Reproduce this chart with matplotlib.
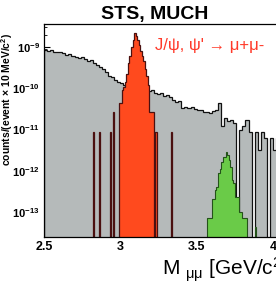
import numpy as np
import matplotlib
matplotlib.use('Agg')
import matplotlib.pyplot as plt

plt.rcParams['font.family'] = ['Liberation Sans', 'DejaVu Sans']
plt.rcParams['mathtext.fontset'] = 'custom'
plt.rcParams['mathtext.rm'] = 'Liberation Sans'
plt.rcParams['mathtext.bf'] = 'Liberation Sans:bold'
plt.rcParams['mathtext.it'] = 'Liberation Sans:italic'

# combinatorial background, 20 MeV bins starting at 2.50 GeV
bg_start, bg_width = 2.50, 0.02
bg_counts = [
    8.6e-10, 8.0e-10, 8.3e-10, 7.6e-10, 7.4e-10, 7.8e-10, 7.0e-10, 6.6e-10, 6.9e-10, 6.1e-10,
    5.8e-10, 5.5e-10, 5.6e-10, 5.0e-10, 4.6e-10, 4.8e-10, 4.1e-10, 3.6e-10, 3.3e-10, 2.9e-10,
    2.5e-10, 2.0e-10, 1.9e-10, 1.6e-10, 1.4e-10, 1.35e-10, 1.2e-10, 1.15e-10, 1.1e-10, 1.05e-10,
    1.0e-10, 9.5e-11, 9.2e-11, 8.8e-11, 8.5e-11, 9.0e-11, 7.6e-11, 7.2e-11, 7.8e-11, 6.6e-11,
    7.0e-11, 6.0e-11, 5.2e-11, 4.7e-11, 5.0e-11, 3.4e-11, 3.6e-11, 3.3e-11, 3.5e-11, 3.1e-11,
    3.0e-11, 2.9e-11, 2.7e-11, 2.6e-11, 2.5e-11, 2.8e-11, 3.0e-11, 4.4e-11, 1.2e-11, 1.9e-11,
    1.6e-11, 1.7e-11, 1.45e-11, 0, 9.8e-12, 1.2e-11, 1.7e-11, 8.7e-12, 0, 8.7e-12,
    3.2e-12, 8.7e-12, 6.3e-12, 0, 6.3e-12, 3.2e-12, 6.3e-12, 3.2e-12,
]

# J/psi signal, 10 MeV bins starting at 2.80 GeV
jpsi_start, jpsi_width = 2.80, 0.01
jpsi_counts = [
    0, 0, 8.7e-12, 0, 0, 0, 8.7e-12, 0, 0, 0,
    0, 0, 0, 8.7e-12, 0, 2.6e-11, 0, 0, 0, 4.4e-11,
    4.4e-11, 9e-11, 1.1e-10, 1.4e-10, 2.2e-10, 4e-10, 6e-10, 1.0e-9, 1.5e-9, 2.2e-9,
    1.9e-9, 1.5e-9, 1.1e-9, 8e-10, 6e-10, 4.5e-10, 3e-10, 2e-10, 1.2e-10, 2.6e-11,
    2.6e-11, 2.6e-11, 0, 8.7e-12, 0, 0, 0, 0, 0, 0,
    0, 0, 0, 8.7e-12, 0,
]

# psi' signal, 10 MeV bins starting at 3.57 GeV
psi2_start, psi2_width = 3.57, 0.01
psi2_counts = [
    7e-14, 7e-14, 7e-14, 2e-13, 2e-13, 3.4e-13, 4e-13, 9e-13, 1.1e-12, 1.6e-12,
    2.1e-12, 2.2e-12, 2.8e-12, 2.4e-12, 1.8e-12, 1.26e-12, 6e-13, 5e-13, 2.3e-13, 2.3e-13,
    2.3e-13, 1e-13, 1e-13, 7e-14, 7e-14, 7e-14, 0, 0, 0, 0,
    0, 4.4e-14, 0,
]

floor = 1e-16


def draw_hist(ax, start, width, counts, face, edge, lw, z):
    counts = np.maximum(np.array(counts, dtype=float), floor)
    edges = start + width * np.arange(len(counts) + 1)
    ax.stairs(counts, edges, baseline=floor, fill=True, facecolor=face,
              edgecolor=face, zorder=z)
    ax.stairs(counts, edges, baseline=floor, color=edge, linewidth=lw, zorder=z + 0.1)


fig = plt.figure(figsize=(2.76, 2.86), dpi=100)
ax = fig.add_axes([44 / 276, 49 / 286, 237 / 276, 213 / 286])

draw_hist(ax, bg_start, bg_width, bg_counts, '#b5baba', '#111111', 0.9, 1)
draw_hist(ax, jpsi_start, jpsi_width, jpsi_counts, '#ff4a1e', '#4a1010', 0.9, 2)
draw_hist(ax, psi2_start, psi2_width, psi2_counts, '#6acb48', '#24521a', 0.8, 3)

ax.set_yscale('log')
ax.set_xlim(2.5, 2.5 + 236 / 152)
ax.set_ylim(10 ** -13.61, 10 ** -8.44)
ax.set_axisbelow(True)

ax.set_xticks([2.5, 3, 3.5, 4])
ax.set_xticklabels(['2.5', '3', '3.5', '4'], fontsize=9, fontweight='bold')
yt = [1e-13, 1e-12, 1e-11, 1e-10, 1e-9]
ax.set_yticks(yt)
ax.set_yticklabels([r'$\mathbf{10^{-%d}}$' % e for e in [13, 12, 11, 10, 9]], fontsize=8)
ax.tick_params(axis='both', direction='in', length=4, pad=3)
ax.tick_params(axis='y', which='minor', direction='in', length=2)
ax.tick_params(axis='x', which='both', length=0, pad=3)
for s in ax.spines.values():
    s.set_linewidth(0.9)
    s.set_zorder(5)

ax.text(3.585, 1.1e-9, "J/ψ, ψ' → μ+μ-", color='#ff3a2a', fontsize=12,
        ha='center', va='center')

fig.text(155 / 276, 1 - 14 / 286, 'STS, MUCH', fontsize=14, fontweight='bold',
         ha='center', va='center')
fig.text(7 / 276, 1 - 100 / 286, 'counts/(event × 10 MeV/c$^{\\mathbf{2}}$)',
         fontsize=7.5, fontweight='bold', rotation=90, ha='center', va='center')
fig.text(162 / 276, 1 - 270 / 286, 'M $_{\\mathregular{μμ}}$ [GeV/c$^{\\mathregular{2}}$]',
         fontsize=15, ha='left', va='center')

fig.savefig('out.png', dpi=100)
